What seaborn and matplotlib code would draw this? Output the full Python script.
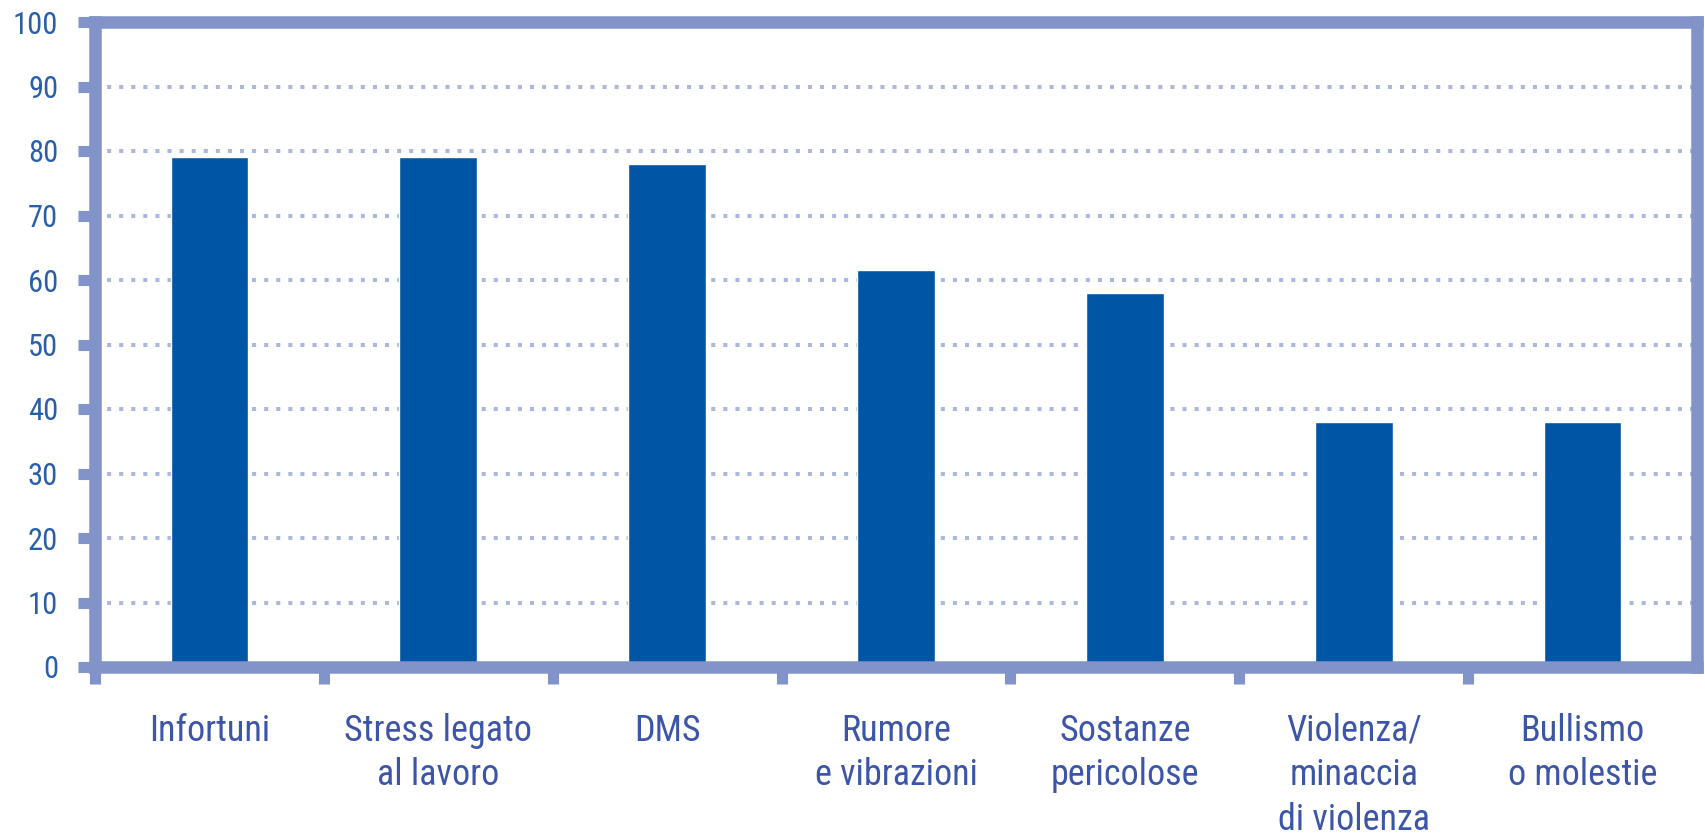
import matplotlib
matplotlib.use("Agg")
import matplotlib.pyplot as plt
import seaborn as sns
import pandas as pd
from matplotlib.ticker import FixedLocator
from matplotlib import font_manager as fm

categories = ["Infortuni", "Stress legato\nal lavoro", "DMS", "Rumore\ne vibrazioni",
              "Sostanze\npericolose", "Violenza/\nminaccia\ndi violenza", "Bullismo\no molestie"]
values = [79, 79, 78, 61.5, 58, 38, 38]
y_ticks = [0, 10, 20, 30, 40, 50, 60, 70, 80, 90, 100]

sns.set_style("white")
plt.rcParams['font.family'] = ['DejaVu Sans']


def pick_condensed():
    entries = fm.fontManager.ttflist
    narrow_names = ['Liberation Sans Narrow', 'Roboto Condensed', 'Open Sans Condensed',
                    'Noto Sans Condensed', 'DejaVu Sans Condensed']
    for nm in narrow_names:
        for f in entries:
            if f.name == nm and f.style == 'normal' and str(f.weight) in ('400', 'normal', 'regular'):
                return f.fname
    for stretch in ('condensed', 'extra-condensed', 'semi-condensed'):
        for nm in ['Noto Sans', 'Roboto', 'Open Sans', 'Liberation Sans', 'DejaVu Sans', 'Inter', 'Lato']:
            for f in entries:
                if (f.name == nm and f.style == 'normal' and f.stretch == stretch
                        and str(f.weight) in ('400', 'normal', 'regular')):
                    return f.fname
    return None


cond = pick_condensed()


def fp(size):
    if cond:
        return fm.FontProperties(fname=cond, size=size)
    return fm.FontProperties(family='DejaVu Sans', stretch='condensed', size=size)


SPINE = "#8193c8"
GRID = "#abb8dc"
BAR = "#0055a4"
TXT = "#3d55a8"

fig = plt.figure(figsize=(17.05, 8.34), dpi=100)
ax = fig.add_axes([95/1705, 167/834, (1697-95)/1705, (667-22)/834])

df = pd.DataFrame({"cat": categories, "val": values})
sns.barplot(data=df, x="cat", y="val", color=BAR, saturation=1, width=0.34, ax=ax, zorder=2)

ax.set_xlim(-0.5, len(categories) - 0.5)
ax.set_ylim(0, 100)
ax.set_xlabel("")
ax.set_ylabel("")

for v in y_ticks[1:-1]:
    ax.axhline(v, color=GRID, lw=2.9, ls=(0, (1, 2)), zorder=1, dash_capstyle='butt')

for s in ax.spines.values():
    s.set_color(SPINE)
    s.set_linewidth(9.0)
    s.set_capstyle('projecting')
    s.set_zorder(3)

ax.yaxis.set_major_locator(FixedLocator(y_ticks))
ax.set_yticklabels([str(t) for t in y_ticks])
ax.tick_params(axis='y', which='major', left=True, direction='out', length=12.5, width=8,
               color=SPINE, labelcolor="#2a5eaa", pad=14)
for lab in ax.get_yticklabels():
    lab.set_fontproperties(fp(22))

ax.set_xticks(range(len(categories)))
ax.set_xticklabels(categories)
ax.tick_params(axis='x', which='major', bottom=True, length=0, labelcolor=TXT, pad=33)
ax.set_xticks([i - 0.5 for i in range(len(categories))], minor=True)
ax.tick_params(axis='x', which='minor', bottom=True, direction='out', length=12.5, width=8, color=SPINE)
for lab in ax.get_xticklabels():
    lab.set_fontproperties(fp(26))
    lab.set_linespacing(1.3)
    lab.set_verticalalignment('top')

fig.savefig("out.png", dpi=100)
